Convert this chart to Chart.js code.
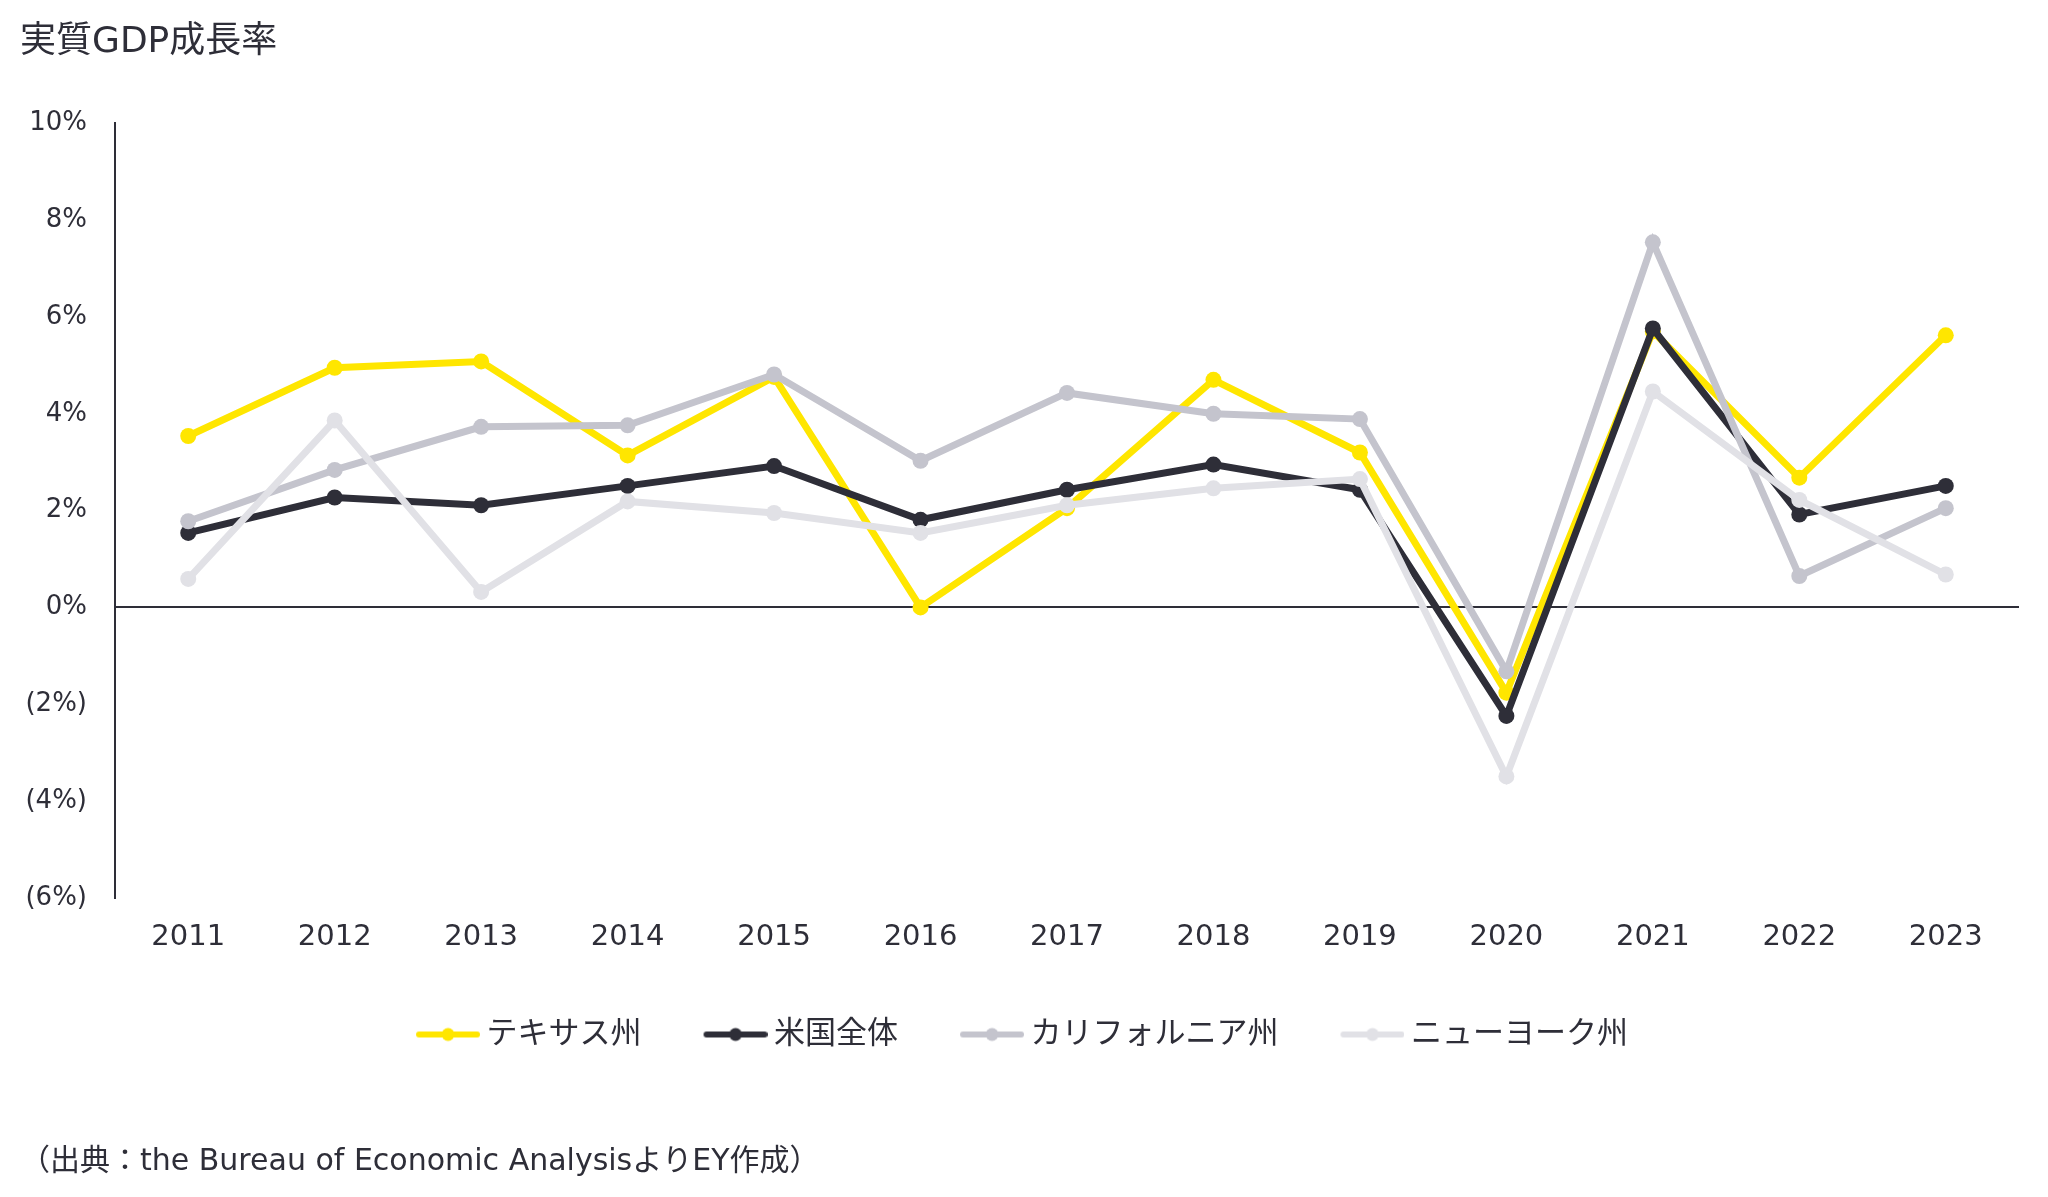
<!DOCTYPE html>
<html>
<head>
<meta charset="utf-8">
<script src="https://cdn.jsdelivr.net/npm/chart.js@4/dist/chart.umd.min.js"></script>
<style>
	html, body { margin: 0; padding: 0; background: #ffffff; }
	#wrap { width: 2048px; height: 1197px; }
</style>
</head>
<body>
<div id="wrap"><canvas id="chart" width="2048" height="1197"></canvas></div>
<script>

//
// data
//

const years = ['2011', '2012', '2013', '2014', '2015', '2016', '2017', '2018', '2019', '2020', '2021', '2022', '2023'];
const texas = [3.54, 4.95, 5.08, 3.14, 4.76, 0.0, 2.05, 4.7, 3.2, -1.76, 5.7, 2.68, 5.62];
const unitedStates = [1.54, 2.27, 2.11, 2.51, 2.92, 1.81, 2.43, 2.95, 2.43, -2.24, 5.76, 1.92, 2.51];
const california = [1.78, 2.84, 3.73, 3.76, 4.81, 3.03, 4.43, 4.0, 3.89, -1.32, 7.54, 0.65, 2.05];
const newYork = [0.59, 3.86, 0.32, 2.19, 1.95, 1.54, 2.11, 2.46, 2.65, -3.49, 4.46, 2.22, 0.68];
const seriesNames = ['テキサス州', '米国全体', 'カリフォルニア州', 'ニューヨーク州'];
const seriesColors = ['#ffe600', '#2e2e38', '#c4c4cd', '#e1e1e6'];
const yTicks = [-6, -4, -2, 0, 2, 4, 6, 8, 10];

const textColor = '#2e2e38';
const fontFamily = "'DejaVu Sans', 'Noto Sans CJK JP', sans-serif";

//
// legend markers (line with a dot, shifted right so it sits close to the text)
//

function getMarker(color) {
	let canvas = document.createElement('canvas');
	canvas.width = 78;
	canvas.height = 20;
	let ctx = canvas.getContext('2d');
	ctx.strokeStyle = color;
	ctx.lineWidth = 6;
	ctx.lineCap = 'round';
	ctx.beginPath();
	ctx.moveTo(17, 10);
	ctx.lineTo(75, 10);
	ctx.stroke();
	ctx.fillStyle = color;
	ctx.beginPath();
	ctx.arc(46, 10, 6.5, 0, Math.PI * 2);
	ctx.fill();
	return canvas;
}

const markers = seriesColors.map(getMarker);

function getDataset(index, data, order) {
	let color = seriesColors[index];
	return {
		label: seriesNames[index],
		data: data,
		borderColor: color,
		backgroundColor: color,
		pointBackgroundColor: color,
		pointBorderWidth: 0,
		pointRadius: 8,
		pointHoverRadius: 8,
		borderWidth: 7,
		tension: 0,
		order: order
	};
}

Chart.defaults.font.family = fontFamily;
Chart.defaults.color = textColor;

const ctx = document.getElementById('chart').getContext('2d');
new Chart(ctx, {
	type: 'line',
	data: {
		labels: years,
		datasets: [
			getDataset(0, texas, 4),
			getDataset(1, unitedStates, 3),
			getDataset(2, california, 2),
			getDataset(3, newYork, 1)
		]
	},
	options: {
		responsive: false,
		animation: false,
		layout: {
			padding: { left: 20, right: 29, top: 0, bottom: 0 }
		},
		plugins: {
			title: {
				display: true,
				text: '実質GDP成長率',
				align: 'start',
				color: textColor,
				font: { size: 36, weight: 'normal', lineHeight: 1.2 },
				padding: { top: 21, bottom: 59 }
			},
			subtitle: {
				display: true,
				position: 'bottom',
				text: '（出典：the Bureau of Economic AnalysisよりEY作成）',
				align: 'start',
				color: textColor,
				font: { size: 30, weight: 'normal', lineHeight: 1.2 },
				padding: { top: 84, bottom: 17 }
			},
			legend: {
				position: 'bottom',
				labels: {
					usePointStyle: true,
					pointStyleWidth: 60,
					boxHeight: 20,
					padding: 57,
					color: textColor,
					font: { size: 31 },
					sort: (a, b) => a.datasetIndex - b.datasetIndex,
					generateLabels: function(chart) {
						let items = Chart.defaults.plugins.legend.labels.generateLabels(chart);
						items.forEach(item => {
							item.pointStyle = markers[item.datasetIndex];
						});
						return items;
					}
				}
			},
			tooltip: { enabled: false }
		},
		scales: {
			x: {
				offset: true,
				afterFit: function(scale) {
					scale.height = 64;
				},
				grid: { display: false, drawTicks: false },
				border: { display: false },
				ticks: {
					color: textColor,
					padding: 22,
					font: { size: 29 }
				}
			},
			y: {
				min: -6,
				max: 10,
				afterFit: function(scale) {
					scale.width = 95;
				},
				afterBuildTicks: function(scale) {
					scale.ticks = yTicks.map(v => ({ value: v }));
				},
				grid: {
					drawTicks: false,
					lineWidth: 2,
					color: c => (c.tick && c.tick.value === 0) ? textColor : 'rgba(0,0,0,0)'
				},
				border: { display: true, color: textColor, width: 2 },
				ticks: {
					color: textColor,
					padding: 28,
					font: { size: 26 },
					callback: v => v < 0 ? '(' + (-v) + '%)' : v + '%'
				}
			}
		}
	}
});
</script>
</body>
</html>
